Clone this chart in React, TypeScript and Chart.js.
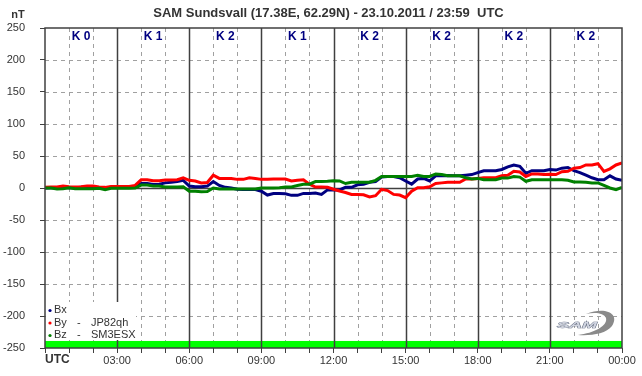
import React, { useEffect, useRef } from 'react';
import { Chart, registerables } from 'chart.js';

Chart.register(...registerables);

// Time of day in hours (UTC)
const hours = [
  0, 0.25, 0.5, 0.75, 1, 1.25, 1.5, 1.75, 2, 2.25, 2.5, 2.75, 3, 3.25, 3.5, 3.75,
  4, 4.25, 4.5, 4.75, 5, 5.25, 5.5, 5.75, 6, 6.25, 6.5, 6.75, 7, 7.25, 7.5, 7.75,
  8, 8.25, 8.5, 8.75, 9, 9.25, 9.5, 9.75, 10, 10.25, 10.5, 10.75, 11, 11.25, 11.5, 11.75,
  12, 12.25, 12.5, 12.75, 13, 13.25, 13.5, 13.75, 14, 14.25, 14.5, 14.75, 15, 15.25, 15.5, 15.75,
  16, 16.25, 16.5, 16.75, 17, 17.25, 17.5, 17.75, 18, 18.25, 18.5, 18.75, 19, 19.25, 19.5, 19.75,
  20, 20.25, 20.5, 20.75, 21, 21.25, 21.5, 21.75, 22, 22.25, 22.5, 22.75, 23, 23.25, 23.5, 23.75,
  24,
];

const bx = [
  0, 0.5, 0.5, 1, 0.5, 0.5, 1, 1, 0.5, 0.5, 0.5, 1, 1, 1, 1, 2,
  7, 7, 5.5, 6, 8, 9, 10, 12, 3, 2, 2, 3, 10, 4, 1, 0,
  -2, -2.5, -2.5, -2.5, -5, -11, -8.5, -8.5, -9, -11.5, -11.5, -8.5, -8.5, -8, -10, -3,
  -3, -3, 1, 1, 5, 6, 9, 10, 17, 18, 18, 16, 11, 6, 14, 15,
  11, 19, 19, 19.5, 19, 19, 20, 21, 24, 27, 27, 27, 29, 33, 36, 34,
  23, 27, 27, 27, 29, 28, 31, 32, 27, 24, 20, 16, 13, 13, 19, 14,
  12,
];

const by = [
  1, 1.5, 1.5, 3, 2, 1.5, 2, 3, 3, 1.5, 1, 2.5, 2.5, 2.5, 2.5, 4,
  13, 13, 11.5, 11.5, 12.5, 12.5, 13, 16, 12, 11, 8, 8.5, 20, 15, 15, 15,
  13.5, 13.5, 16, 15, 13.5, 13.5, 14, 14, 14, 11, 12, 13, 6, 1.5, 1.5, 1,
  -2, -4.7, -7, -10, -10, -10.5, -14, -12, -2, -4, -10, -11, -15, -5, 0.5, 0.5,
  2, 7, 8, 9, 9, 9, 14, 14, 15, 16, 16, 16, 19, 20, 26, 25,
  18, 22, 22, 21, 21.5, 21, 25.5, 26, 31, 32, 36, 36, 38, 26, 30, 36,
  39,
];

const bz = [
  0, 0, -1.5, -1, 0.5, -1, -1, -1, -1, -0.5, -2.5, -0.5, -0.5, -0.5, -0.5, 0,
  4.5, 4.5, 3, 3, 1.5, 1.5, 1.5, 2, -5, -5, -6, -5.5, 0, -1.5, -1.5, -1.5,
  -1.5, -1.5, -1.5, -1.5, 0, 0, 0, 0.5, 1.5, 1.5, 4, 6, 6, 10, 10, 10.5,
  11.5, 11, 7, 9, 9, 9, 9, 12, 18, 18, 18, 18, 18, 18, 20, 18,
  18, 22, 21, 19, 19, 19, 16, 14, 15, 13, 13, 13, 15.5, 15.5, 18, 17,
  10.5, 13, 13, 13, 13, 13, 13, 12, 9.5, 9.5, 9, 8, 8, 4, 0, -2.5,
  1,
];

const kIndexLabels = ['K 0', 'K 1', 'K 2', 'K 1', 'K 2', 'K 2', 'K 2', 'K 2'];
const xMajorLabels = ['03:00', '06:00', '09:00', '12:00', '15:00', '18:00', '21:00', '00:00'];
const yRange = [-250, 250];
const coverageBand = [-250, -239];
const legendNames = ['Bx', 'By  -  JP82qh', 'Bz  -  SM3ESX'];
const titleText = 'SAM Sundsvall (17.38E, 62.29N) - 23.10.2011 / 23:59  UTC';

const FONT = 'Arial, "Liberation Sans", sans-serif';
const COLORS = { bx: '#000080', by: '#ff0000', bz: '#008000' };

const decorPlugin = {
  id: 'samDecor',
  beforeDatasetsDraw(chart: any) {
    const { ctx, chartArea: a, scales } = chart;
    const xs = scales.x;
    const ys = scales.y;
    ctx.save();
    // coverage band
    const bt = ys.getPixelForValue(coverageBand[1]);
    const bb = ys.getPixelForValue(coverageBand[0]);
    ctx.fillStyle = '#00ff00';
    ctx.fillRect(a.left, bt, a.right - a.left, bb - bt);

    // dashed grid
    ctx.strokeStyle = '#a0a0a0';
    ctx.lineWidth = 1;
    ctx.setLineDash([4, 4]);
    for (let v = yRange[0] + 50; v < yRange[1]; v += 50) {
      if (v === 0) continue;
      const y = Math.round(ys.getPixelForValue(v)) + 0.5;
      ctx.beginPath();
      ctx.moveTo(a.left, y);
      ctx.lineTo(a.right, y);
      ctx.stroke();
    }
    for (let h = 1; h < 24; h++) {
      if (h % 3 === 0) continue;
      const x = Math.round(xs.getPixelForValue(h)) + 0.5;
      ctx.beginPath();
      ctx.moveTo(x, a.top);
      ctx.lineTo(x, bt);
      ctx.stroke();
    }
    ctx.setLineDash([]);
    // solid grid
    ctx.strokeStyle = '#404040';
    ctx.lineWidth = 1.5;
    for (let h = 3; h < 24; h += 3) {
      const x = Math.round(xs.getPixelForValue(h)) + 0.5;
      ctx.beginPath();
      ctx.moveTo(x, a.top);
      ctx.lineTo(x, a.bottom);
      ctx.stroke();
    }
    const y0 = Math.round(ys.getPixelForValue(0)) + 0.5;
    ctx.beginPath();
    ctx.moveTo(a.left, y0);
    ctx.lineTo(a.right, y0);
    ctx.stroke();
    ctx.restore();
  },
  afterDatasetsDraw(chart: any) {
    const { ctx, chartArea: a, scales } = chart;
    const xs = scales.x;
    ctx.save();
    // legend box
    ctx.fillStyle = '#ffffff';
    ctx.fillRect(a.left + 1, 302, 90, 38);
    const legendColors = [COLORS.bx, COLORS.by, COLORS.bz];
    ctx.font = `11px ${FONT}`;
    ctx.textBaseline = 'middle';
    ctx.textAlign = 'left';
    legendNames.forEach((name, i) => {
      const y = 310 + i * 12.5;
      ctx.fillStyle = legendColors[i];
      ctx.beginPath();
      ctx.arc(a.left + 5, y + 0.5, 1.6, 0, Math.PI * 2);
      ctx.fill();
      ctx.fillStyle = '#333333';
      const parts = name.split('  -  ');
      ctx.fillText(parts[0], a.left + 9, y);
      if (parts[1]) {
        ctx.fillText('-', a.left + 32, y);
        ctx.fillText(parts[1], a.left + 46, y);
      }
    });

    // border
    ctx.strokeStyle = '#404040';
    ctx.lineWidth = 1.5;
    ctx.strokeRect(a.left, a.top, a.right - a.left, a.bottom - a.top);

    // K index labels
    ctx.font = `bold 12px ${FONT}`;
    ctx.fillStyle = '#000080';
    ctx.textAlign = 'center';
    kIndexLabels.forEach((k, i) => {
      const x = xs.getPixelForValue(i * 3 + 1.5);
      ctx.fillText(k, x, 37);
    });

    // SAM logo
    ctx.fillStyle = '#8a8a8a';
    ctx.beginPath();
    ctx.moveTo(586, 314);
    ctx.bezierCurveTo(606, 306, 620, 314, 612, 326);
    ctx.bezierCurveTo(606, 334, 590, 336, 578, 335);
    ctx.bezierCurveTo(594, 333, 608, 326, 606, 318);
    ctx.bezierCurveTo(604, 313, 595, 312, 586, 314);
    ctx.fill();
    ctx.save();
    ctx.translate(557, 328);
    ctx.scale(1.5, 0.8);
    ctx.font = `italic bold 12px ${FONT}`;
    ctx.textAlign = 'left';
    ctx.textBaseline = 'alphabetic';
    ctx.lineWidth = 0.8;
    ctx.strokeStyle = '#5a6478';
    ctx.fillStyle = '#d0d4e0';
    ctx.strokeText('SAM', 0, 0);
    ctx.fillText('SAM', 0, 0);
    ctx.restore();
    ctx.restore();
  },
  afterDraw(chart: any) {
    const { ctx, chartArea: a } = chart;
    ctx.save();
    ctx.fillStyle = '#333333';
    ctx.textBaseline = 'middle';
    ctx.font = `bold 13px ${FONT}`;
    ctx.textAlign = 'center';
    ctx.fillText(titleText, (a.left + a.right) / 2 - 5, 13);
    ctx.font = `bold 11px ${FONT}`;
    ctx.fillText('nT', 18, 15);
    ctx.font = `bold 12px ${FONT}`;
    ctx.textAlign = 'left';
    ctx.fillText('UTC', a.left, 360);
    ctx.restore();
  },
};

export default function App() {
  const ref = useRef<HTMLCanvasElement | null>(null);
  useEffect(() => {
    document.body.style.margin = '0';
    const canvas = ref.current;
    if (!canvas) return;
    const mk = (d: number[]) => hours.map((h, i) => ({ x: h, y: d[i] }));
    const chart = new Chart(canvas, {
      type: 'line',
      data: {
        datasets: [
          { label: 'Bz', data: mk(bz), borderColor: COLORS.bz, borderWidth: 3, pointRadius: 0, tension: 0, order: 1 },
          { label: 'By', data: mk(by), borderColor: COLORS.by, borderWidth: 3, pointRadius: 0, tension: 0, order: 2 },
          { label: 'Bx', data: mk(bx), borderColor: COLORS.bx, borderWidth: 3, pointRadius: 0, tension: 0, order: 3 },
        ],
      },
      options: {
        animation: false,
        responsive: false,
        maintainAspectRatio: false,
        layout: { padding: { top: 28, right: 20, left: 0, bottom: 0 } },
        plugins: { legend: { display: false }, tooltip: { enabled: false }, title: { display: false } },
        scales: {
          x: {
            type: 'linear',
            min: 0,
            max: 24,
            afterFit: (s: any) => { s.height = 28; },
            grid: { display: true, drawOnChartArea: false, drawTicks: true, tickLength: 5, color: '#404040', lineWidth: 1 },
            border: { display: false },
            ticks: {
              stepSize: 1,
              autoSkip: false,
              maxRotation: 0,
              padding: 1,
              color: '#333333',
              font: { family: FONT, size: 11 },
              callback: (v: any) => {
                const n = Number(v);
                return n > 0 && n % 3 === 0 ? xMajorLabels[n / 3 - 1] : '';
              },
            },
          },
          y: {
            min: yRange[0],
            max: yRange[1],
            afterFit: (s: any) => { s.width = 45; },
            grid: { display: true, drawOnChartArea: false, drawTicks: true, tickLength: 5, color: '#404040', lineWidth: 1 },
            border: { display: false },
            ticks: {
              stepSize: 50,
              padding: 15,
              color: '#333333',
              font: { family: FONT, size: 11 },
            },
          },
        },
      },
      plugins: [decorPlugin],
    } as any);
    return () => chart.destroy();
  }, []);
  return (
    <div style={{ position: 'absolute', left: 0, top: 0, width: 642, height: 376, background: '#fff' }}>
      <canvas ref={ref} width={642} height={376} />
    </div>
  );
}
